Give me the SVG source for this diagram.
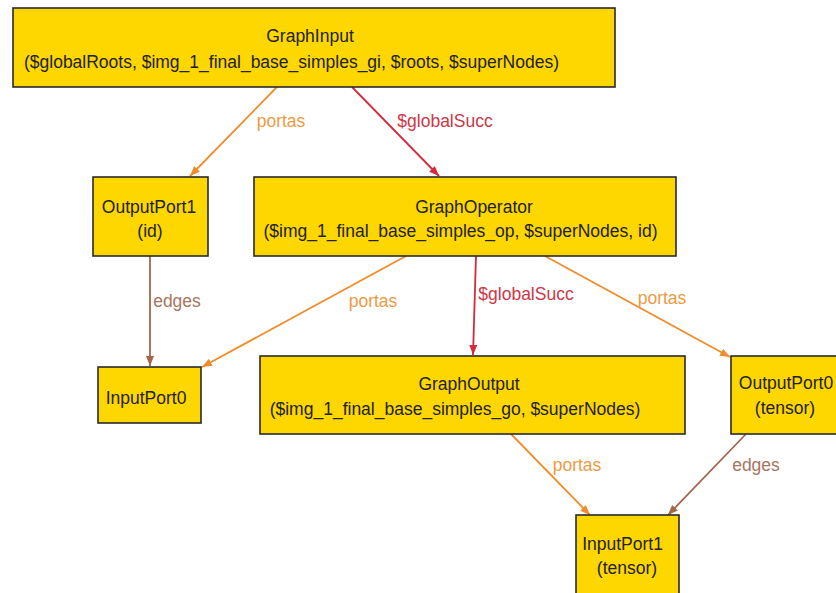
<svg xmlns="http://www.w3.org/2000/svg" width="836" height="593" viewBox="0 0 836 593">
  <style>
    .node rect { fill: #FFD700; stroke: #2a2a2a; stroke-width: 1.6; }
    .node text { font-family: "Liberation Sans", Arial, sans-serif; font-size: 17.5px; fill: #222; text-anchor: middle; }
    .edge { fill: none; stroke-width: 1.8; }
    .lbl { font-family: "Liberation Sans", Arial, sans-serif; font-size: 17.5px; text-anchor: middle; }
    .portas { stroke: #F08C2A; }
    .succ { stroke: #D42A3C; }
    .edges { stroke: #A5654A; }
    .t-portas { fill: #EE9A45; }
    .t-succ { fill: #CC3848; }
    .t-edges { fill: #A67660; }
  </style>
  <defs>
    <marker id="ah-portas" viewBox="0 0 10 8" refX="10" refY="4" markerWidth="10" markerHeight="8" markerUnits="userSpaceOnUse" orient="auto">
      <path d="M0,0 L10,4 L0,8 Z" fill="#F08C2A"/>
    </marker>
    <marker id="ah-succ" viewBox="0 0 10 8" refX="10" refY="4" markerWidth="10" markerHeight="8" markerUnits="userSpaceOnUse" orient="auto">
      <path d="M0,0 L10,4 L0,8 Z" fill="#D42A3C"/>
    </marker>
    <marker id="ah-edges" viewBox="0 0 10 8" refX="10" refY="4" markerWidth="10" markerHeight="8" markerUnits="userSpaceOnUse" orient="auto">
      <path d="M0,0 L10,4 L0,8 Z" fill="#A5654A"/>
    </marker>
  </defs>
  <rect width="836" height="593" fill="#fff"/>

  <g id="connectors">
    <line class="edge portas" x1="277" y1="87" x2="190" y2="176" marker-end="url(#ah-portas)"/>
    <text class="lbl t-portas" x="281" y="127">portas</text>
    <line class="edge succ" x1="352" y1="87" x2="439" y2="176" marker-end="url(#ah-succ)"/>
    <text class="lbl t-succ" x="445" y="127">$globalSucc</text>
    <line class="edge edges" x1="150" y1="256" x2="150" y2="366" marker-end="url(#ah-edges)"/>
    <text class="lbl t-edges" x="177" y="307">edges</text>
    <line class="edge portas" x1="406" y1="256" x2="202" y2="367" marker-end="url(#ah-portas)"/>
    <text class="lbl t-portas" x="373" y="307">portas</text>
    <line class="edge succ" x1="476" y1="256" x2="473" y2="355" marker-end="url(#ah-succ)"/>
    <text class="lbl t-succ" x="526" y="300">$globalSucc</text>
    <line class="edge portas" x1="545" y1="256" x2="730" y2="357" marker-end="url(#ah-portas)"/>
    <text class="lbl t-portas" x="662" y="304">portas</text>
    <line class="edge portas" x1="511" y1="434" x2="590" y2="515" marker-end="url(#ah-portas)"/>
    <text class="lbl t-portas" x="577" y="471">portas</text>
    <line class="edge edges" x1="746" y1="434" x2="668" y2="515" marker-end="url(#ah-edges)"/>
    <text class="lbl t-edges" x="756" y="471">edges</text>
  </g>

  <g id="GraphInput" class="node">
    <rect x="13" y="8" width="602" height="79"/>
    <text x="310" y="42">GraphInput</text>
    <text x="291.5" y="68">($globalRoots, $img_1_final_base_simples_gi, $roots, $superNodes)</text>
  </g>
  <g id="OutputPort1" class="node">
    <rect x="93" y="177" width="115" height="79"/>
    <text x="149" y="213">OutputPort1</text>
    <text x="150" y="237">(id)</text>
  </g>
  <g id="GraphOperator" class="node">
    <rect x="254" y="177" width="422" height="79"/>
    <text x="474" y="213">GraphOperator</text>
    <text x="460.5" y="237">($img_1_final_base_simples_op, $superNodes, id)</text>
  </g>
  <g id="InputPort0" class="node">
    <rect x="98" y="367" width="103" height="56"/>
    <text x="146" y="404">InputPort0</text>
  </g>
  <g id="GraphOutput" class="node">
    <rect x="260" y="356" width="425" height="78"/>
    <text x="469" y="390">GraphOutput</text>
    <text x="455" y="415">($img_1_final_base_simples_go, $superNodes)</text>
  </g>
  <g id="OutputPort0" class="node">
    <rect x="731" y="356" width="112" height="78"/>
    <text x="786" y="389">OutputPort0</text>
    <text x="785" y="414">(tensor)</text>
  </g>
  <g id="InputPort1" class="node">
    <rect x="576" y="515" width="103" height="90"/>
    <text x="622.5" y="550">InputPort1</text>
    <text x="627" y="574">(tensor)</text>
  </g>
</svg>
